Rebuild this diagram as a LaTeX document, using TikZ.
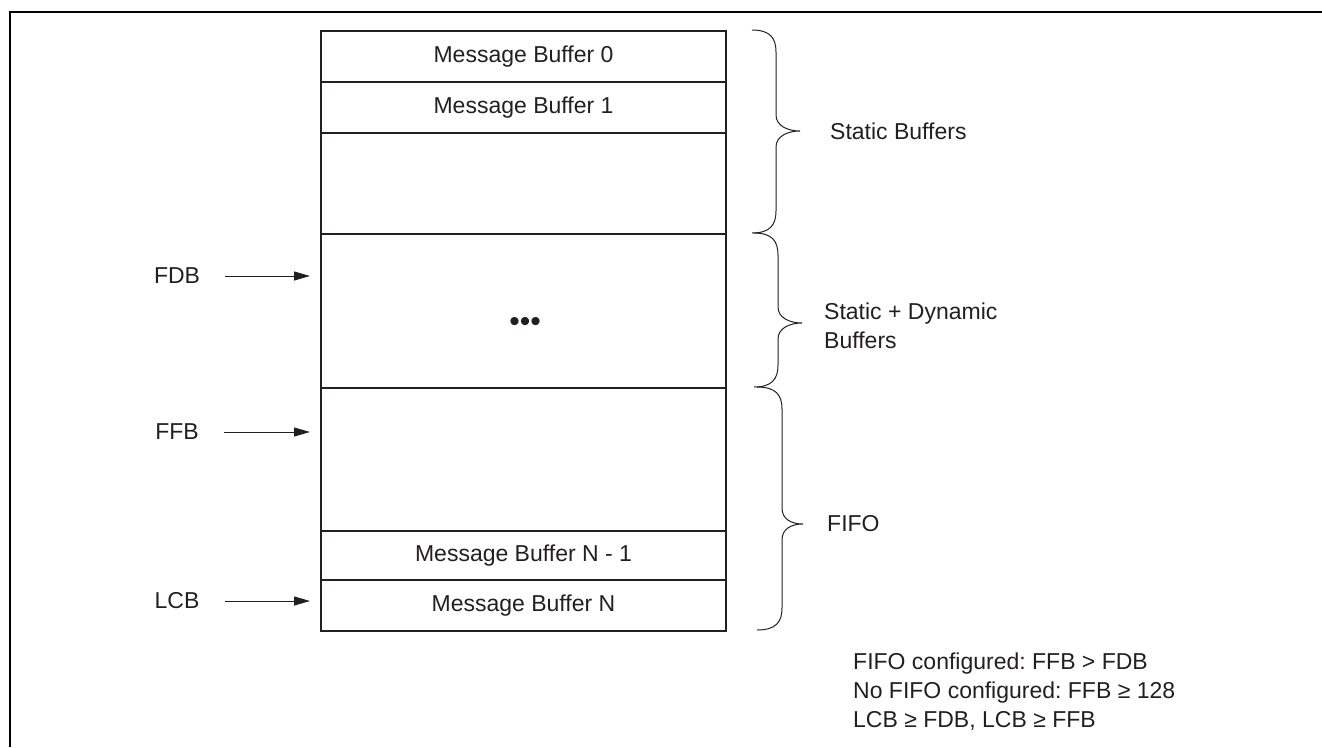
\documentclass[tikz,border=0pt]{standalone}
\usepackage{fontspec}
\setmainfont{Liberation Sans}
\frenchspacing
\usetikzlibrary{arrows.meta}
\definecolor{ink}{HTML}{231F20}
\begin{document}
\begin{tikzpicture}[x=1pt,y=-1pt,
  every node/.style={text=ink,font=\fontsize{23}{29}\selectfont},
  row/.style={draw=ink,line width=2pt,minimum width=405pt,inner sep=0pt,anchor=north west},
  lab/.style={inner sep=0pt},
  arr/.style={draw=ink,line width=1pt,-{Triangle[length=16pt,width=9pt]}},
  brace/.style={draw=ink,line width=1pt}]
\useasboundingbox (0,0) rectangle (1322,747);
% frame
\draw[line width=2pt,black] (10,747) -- (10,12) -- (1322,12);
% stack rows
\node[row,minimum height=51pt]  (r0)  at (320,30)  {Message Buffer 0};
\node[row,minimum height=51pt]  (r1)  at (320,81)  {Message Buffer 1};
\node[row,minimum height=101pt] (r2)  at (320,132) {};
\node[row,minimum height=154pt] (r3)  at (320,233) {};
\node[row,minimum height=143pt] (r4)  at (320,387) {};
\node[row,minimum height=49pt]  (r5)  at (320,530) {Message Buffer N - 1};
\node[row,minimum height=51pt]  (r6)  at (320,579) {Message Buffer N};
\node[lab,font=\fontsize{30}{30}\selectfont] (dots) at (525,324) {•••};
% pointers
\node[lab] (fdb) at (177,276) {FDB};
\node[lab] (ffb) at (177,432) {FFB};
\node[lab] (lcb) at (177,601) {LCB};
\draw[arr,shorten <=25pt,shorten >=10pt] (fdb.east) -- (fdb.east -| r3.west);
\draw[arr,shorten <=25pt,shorten >=10pt] (ffb.east) -- (ffb.east -| r4.west);
\draw[arr,shorten <=25pt,shorten >=10pt] (lcb.east) -- (lcb.east -| r6.west);
% braces
\newcommand{\mybrace}[6]{% L V T top tip bottom
  \draw[brace] (#1,#4) .. controls (#2-6,#4) and (#2,#4+8) .. (#2,#4+22)
    -- (#2,#5-16) .. controls (#2,#5-5) and (#3-12,#5) .. (#3,#5)
    .. controls (#3-12,#5) and (#2,#5+5) .. (#2,#5+16)
    -- (#2,#6-22) .. controls (#2,#6-8) and (#2-6,#6) .. (#1,#6);}
\mybrace{752}{776}{800}{30}{131}{233}
\mybrace{754}{778}{802}{233}{323}{387}
\mybrace{757}{782}{803}{387}{524}{630}
\node[lab,anchor=west] (sb) at (830,131) {Static Buffers};
\node[lab,anchor=west,align=left] (sdb) at (824,326) {Static + Dynamic\\Buffers};
\node[lab,anchor=west] (fifo) at (827,524) {FIFO};
\node[lab,anchor=west,align=left] (notes) at (853,692) {FIFO configured: FFB > FDB\\No FIFO configured: FFB ≥ 128\\LCB ≥ FDB, LCB ≥ FFB};
\end{tikzpicture}
\end{document}
